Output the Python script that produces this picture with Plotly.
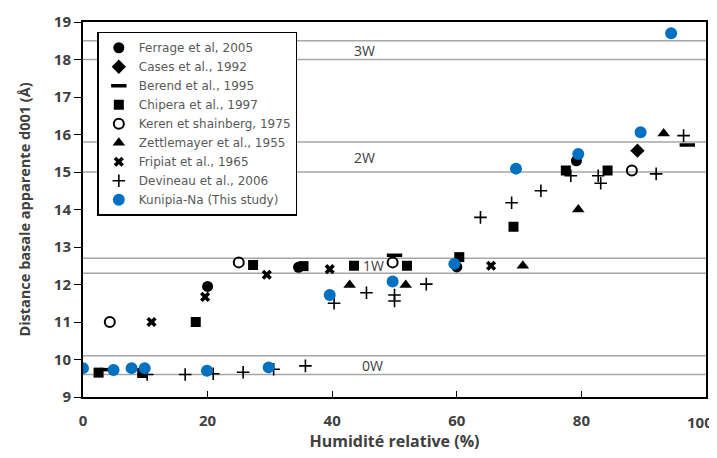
import plotly.graph_objects as go

# Données (humidité relative %, d001 en Å)
ferrage_x = [20, 34.6, 60, 79.2]
ferrage_y = [11.95, 12.46, 12.47, 15.3]

cases_x = [89]
cases_y = [15.57]

berend_x = [4, 50, 97]
berend_y = [9.73, 12.78, 15.72]

chipera_x = [2.5, 9.5, 18.1, 27.3, 35.4, 43.5, 52, 60.4, 69.1, 77.5, 84.2]
chipera_y = [9.65, 9.64, 11.0, 12.52, 12.49, 12.5, 12.5, 12.73, 13.54, 15.04, 15.04]

keren_x = [4.3, 25, 49.7, 88.1]
keren_y = [11.0, 12.59, 12.59, 15.04]

zettle_x = [42.8, 51.8, 70.6, 79.5, 93.2]
zettle_y = [11.99, 11.99, 12.5, 14.0, 16.03]

fripiat_x = [11, 19.6, 29.5, 39.6, 65.5]
fripiat_y = [11.0, 11.67, 12.26, 12.41, 12.5]

devineau_x = [10.3, 16.4, 20.9, 25.7, 30.6, 35.7, 40.3, 45.5, 50, 50, 55.1, 63.8,
              68.8, 73.5, 78.3, 82.7, 83.1, 92, 96.4]
devineau_y = [9.6, 9.6, 9.62, 9.66, 9.74, 9.83, 11.5, 11.78, 11.72, 11.56, 12.01, 13.79,
              14.18, 14.5, 14.9, 14.9, 14.7, 14.95, 15.97]

kunipia_x = [0, 4.9, 7.8, 9.9, 19.9, 29.8, 39.6, 49.7, 59.6, 69.5, 79.5, 89.5, 94.4]
kunipia_y = [9.77, 9.72, 9.77, 9.77, 9.7, 9.79, 11.72, 12.08, 12.55, 15.09, 15.48, 16.06, 18.7]

# états d'hydratation : bornes des bandes et libellés
ref_lines = [9.6, 10.1, 12.3, 12.7, 15.0, 15.8, 18.0, 18.5]
band_labels = ['0W', '1W', '2W', '3W']
band_x = [46.5, 46.6, 45.2, 45.2]
band_y = [9.85, 12.5, 15.4, 18.25]

x_ticks = [0, 20, 40, 60, 80, 100]
x_ticktext = ['0', '20', '40', '60', '80', '']  # "100" placé à part pour ne pas déborder

series = [
    ('Ferrage et al, 2005', ferrage_x, ferrage_y, dict(symbol='circle', size=11, color='black')),
    ('Cases et al., 1992', cases_x, cases_y, dict(symbol='diamond', size=11, color='black')),
    ('Berend et al., 1995', berend_x, berend_y,
     dict(symbol='line-ew-open', size=11, color='black', line=dict(width=3.5, color='black'))),
    ('Chipera et al., 1997', chipera_x, chipera_y, dict(symbol='square', size=10, color='black')),
    ('Keren et shainberg, 1975', keren_x, keren_y,
     dict(symbol='circle-open', size=10, color='black', line=dict(width=2, color='black'))),
    ('Zettlemayer et al., 1955', zettle_x, zettle_y, dict(symbol='triangle-up', size=11, color='black')),
    ('Fripiat et al., 1965', fripiat_x, fripiat_y,
     dict(symbol='x', size=9, color='black', line=dict(width=0))),
    ('Devineau et al., 2006', devineau_x, devineau_y,
     dict(symbol='cross-thin-open', size=9, color='black', line=dict(width=1.6, color='black'))),
    ('Kunipia-Na (This study)', kunipia_x, kunipia_y, dict(symbol='circle', size=12, color='#0070C0')),
]

fig = go.Figure()
for name, xs, ys, mk in series:
    fig.add_trace(go.Scatter(x=xs, y=ys, mode='markers', name=name, marker=mk))

shapes = []
for yv in ref_lines:
    shapes.append(dict(type='line', xref='paper', x0=0, x1=1, yref='y', y0=yv, y1=yv,
                       line=dict(color='#a6a6a6', width=1.3), layer='below'))

annotations = []
for lab, xv, yv in zip(band_labels, band_x, band_y):
    annotations.append(dict(x=xv, y=yv, text=lab, showarrow=False,
                            font=dict(size=14, color='#404040', family='Open Sans')))
annotations.append(dict(x=100, xref='x', y=0, yref='paper', yanchor='top', yshift=-13,
                        xanchor='right', xshift=9, text='100', showarrow=False,
                        font=dict(size=15, weight='bold', color='#404040', family='Open Sans')))

fig.update_layout(
    width=709, height=450,
    margin=dict(l=75, r=11, t=14, b=61, autoexpand=False),
    plot_bgcolor='white', paper_bgcolor='white',
    font=dict(family='Open Sans', color='#404040'),
    shapes=shapes,
    annotations=annotations,
    legend=dict(x=0.023, y=0.974, xanchor='left', yanchor='top',
                bordercolor='black', borderwidth=1.5, bgcolor='white',
                font=dict(size=12, color='#595959', family='DejaVu Sans'),
                itemwidth=30, tracegroupgap=0),
    xaxis=dict(range=[0, 100], tickvals=x_ticks, ticktext=x_ticktext,
               showgrid=False, zeroline=False, automargin=False,
               showline=True, linecolor='black', linewidth=2, mirror=True,
               ticks='inside', ticklen=6, tickcolor='black', ticklabelstandoff=9,
               tickfont=dict(size=15, weight='bold', color='#404040'),
               title=dict(text='Humidité relative (%)', standoff=4,
                          font=dict(size=16, weight='bold', color='#404040'))),
    yaxis=dict(range=[9, 19], dtick=1, showgrid=False, zeroline=False, automargin=False,
               showline=True, linecolor='black', linewidth=2, mirror=True,
               ticks='outside', ticklen=7, tickcolor='black',
               tickfont=dict(size=15, weight='bold', color='#404040'),
               title=dict(text='Distance basale apparente d001 (Å)', standoff=20,
                          font=dict(size=14.5, weight='bold', color='#404040'))),
)

fig.write_html("out.html")
